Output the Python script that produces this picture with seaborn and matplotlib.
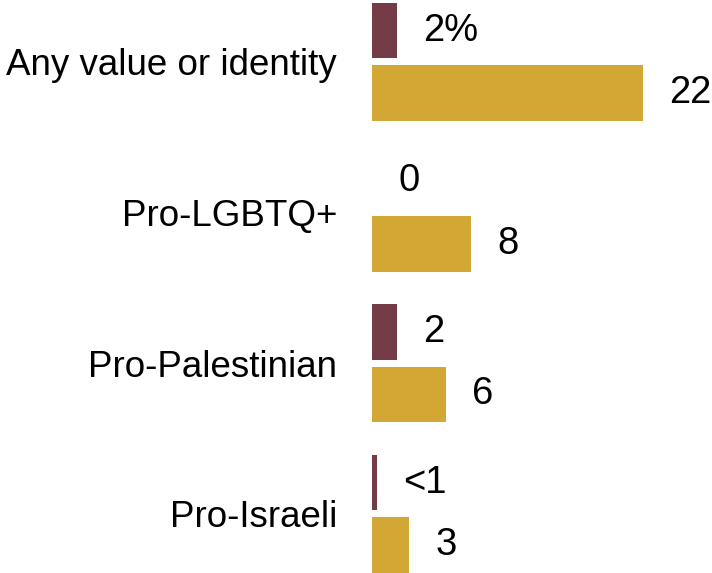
import matplotlib
matplotlib.use("Agg")
import matplotlib.pyplot as plt
import pandas as pd
import seaborn as sns

# Share of respondents, by type of value or identity
categories = ["Any value or identity", "Pro-LGBTQ+", "Pro-Palestinian", "Pro-Israeli"]
series_names = ["Series A", "Series B"]
series_a = [2, 0, 2, 0.4]
series_b = [22, 8, 6, 3]
labels_a = ["2%", "0", "2", "<1"]
labels_b = ["22", "8", "6", "3"]

maroon = "#733C46"
gold = "#D3A733"

df = pd.DataFrame({
    "category": categories * 2,
    "series": [series_names[0]] * len(categories) + [series_names[1]] * len(categories),
    "value": series_a + series_b,
})

sns.set_theme(style="white")
plt.rcParams["font.family"] = ["Liberation Sans", "DejaVu Sans"]

W, H, DPI = 712, 573, 100
fig = plt.figure(figsize=(W / DPI, H / DPI), dpi=DPI)
ax = fig.add_axes([372 / W, 0, 340 / W, 1])

sns.barplot(
    data=df, y="category", x="value", hue="series", orient="h",
    order=categories, hue_order=series_names,
    palette=[maroon, gold], saturation=1, width=0.83, gap=0.11,
    legend=False, ax=ax, linewidth=0,
)

ax.set_xlim(0, 340 / 12.32)
ax.set_ylim(3.393, -0.41)

for container, labs in zip(ax.containers, [labels_a, labels_b]):
    ax.bar_label(container, labels=labs, padding=19.0, fontsize=27.5,
                 color="black", clip_on=False)

ax.set_xlabel("")
ax.set_ylabel("")
ax.set_xticks([])
ax.tick_params(axis="y", length=0, pad=25.2, labelsize=26.5, labelcolor="black")
for s in ax.spines.values():
    s.set_visible(False)

fig.savefig("out.png", dpi=DPI)
